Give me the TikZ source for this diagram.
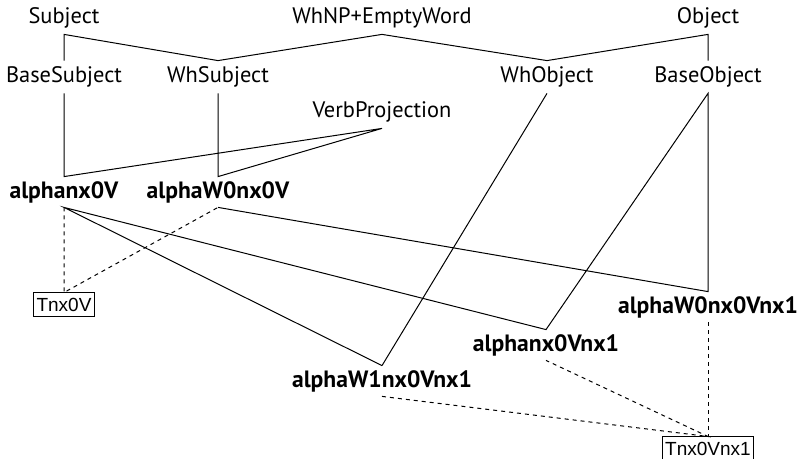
\documentclass[tikz,border=0pt]{standalone}
\usepackage{fontspec}
\setmainfont{PT Sans}
\newfontfamily\boxfont{Liberation Sans}
\begin{document}
\begin{tikzpicture}[x=0.5pt,y=-0.5pt,
  lbl/.style={inner sep=0pt, minimum height=16pt, font=\fontsize{11.2}{13}\selectfont},
  tree/.style={inner sep=0pt, minimum height=15pt, font=\fontsize{11.8}{13}\selectfont\bfseries},
  tbox/.style={draw, line width=0.5pt, inner xsep=1.6pt, inner ysep=0pt, minimum height=12pt, font=\boxfont\fontsize{9.5}{11}\selectfont},
  link/.style={line width=0.5pt},
  instof/.style={line width=0.5pt, dash pattern=on 2pt off 2pt}]
\useasboundingbox (0,0) rectangle (798,459);

% hierarchy of labels
\node[lbl] (subj) at (64,18) {Subject};
\node[lbl] (whnp) at (382,18) {WhNP+EmptyWord};
\node[lbl] (obj) at (708,18) {Object};
\node[lbl] (bsubj) at (64,77) {BaseSubject};
\node[lbl] (whsubj) at (218,77) {WhSubject};
\node[lbl] (whobj) at (547,77) {WhObject};
\node[lbl] (bobj) at (708,77) {BaseObject};
\node[lbl] (vproj) at (382,112) {VerbProjection};

% elementary trees
\node[tree] (a0) at (64,192) {alphanx0V};
\node[tree] (aw0) at (218,192) {alphaW0nx0V};
\node[tree] (aw0n1) at (708,307) {alphaW0nx0Vnx1};
\node[tree] (an1) at (546,345) {alphanx0Vnx1};
\node[tree] (aw1) at (382,381) {alphaW1nx0Vnx1};

% tree families
\node[tbox] (t0) at (64,305) {Tnx0V};
\node[tbox] (t1) at (708,449) {Tnx0Vnx1};

% label inheritance
\draw[link] (bsubj.north) -- (subj.south) -- (whsubj.north) -- (whnp.south) -- (whobj.north) -- (obj.south) -- (bobj.north);
\draw[link] (bsubj.south) -- (a0.north) -- (vproj.south) -- (aw0.north) -- (whsubj.south);
\draw[link] (aw1.north) -- (a0.south) -- (an1.north) -- (bobj.south) -- (aw0n1.north) -- (aw0.south);
\draw[link] (whobj.south) -- (aw1.north);

% family membership
\draw[instof] (a0.south) -- (t0.north) -- (aw0.south);
\draw[instof] (aw1.south) -- (t1.north) -- (an1.south);
\draw[instof] (aw0n1.south) -- (t1.north);
\end{tikzpicture}
\end{document}
